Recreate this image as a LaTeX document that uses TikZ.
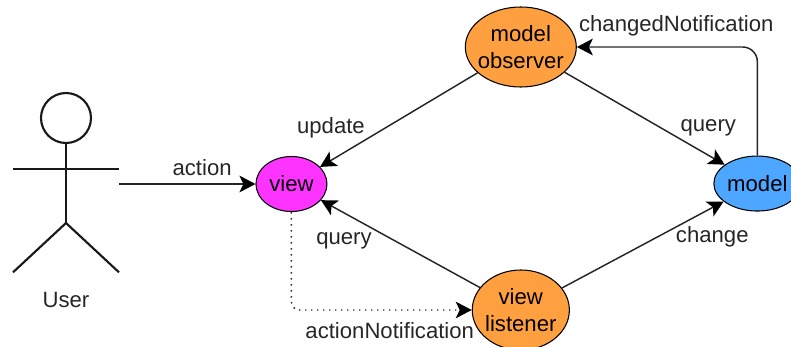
\documentclass[tikz,border=0pt]{standalone}
\usepackage{fontspec}
\setmainfont{Liberation Sans}
\usepackage{xcolor}
\usepackage{tikz}
\usetikzlibrary{shapes.geometric, arrows.meta}
\definecolor{viewfill}{HTML}{FF33FF}
\definecolor{obsfill}{HTML}{FFA040}
\definecolor{modelfill}{HTML}{4DA6FF}
\tikzstyle{vw} = [ellipse, minimum width=53.25pt, minimum height=41.25pt, inner sep=0pt, text centered, draw=black, thick, fill=viewfill]
\tikzstyle{obs} = [ellipse, minimum width=83.25pt, minimum height=60pt, inner ysep=0pt, inner xsep=-3pt, align=center, draw=black, thick, fill=obsfill]
\tikzstyle{lis} = [ellipse, minimum width=72pt, minimum height=60pt, inner ysep=0pt, inner xsep=-1pt, align=center, draw=black, thick, fill=obsfill]
\tikzstyle{mdl} = [ellipse, minimum width=65.25pt, minimum height=41.25pt, inner sep=0pt, text centered, draw=black, thick, fill=modelfill]
\tikzstyle{lab} = [inner sep=0pt, text=black!85]
\tikzstyle{arrow} = [line width=1.1pt, black!85, -{Stealth[length=12pt, width=12.5pt, inset=3pt, color=black]}]
\tikzstyle{dotarrow} = [arrow, dash pattern=on 1.1pt off 3.4pt, rounded corners=6pt]
\tikzstyle{stick} = [line width=1.6pt, black!90]

\begin{document}
\begin{tikzpicture}[node distance=172pt, font=\fontsize{16.6}{20}\selectfont]
\useasboundingbox (0,0) rectangle (593.25pt,-259.5pt);

\node (view) [vw] at (218.6pt,-138pt) {view};
\node (observer) [obs, right of=view, yshift=102.75pt] {model\\observer};
\node (listener) [lis, right of=view, yshift=-94.5pt] {view\\listener};
\node (model) [mdl, right of=observer, xshift=5.4pt, yshift=-102.4pt] {model};

% user
\node (head) [circle, minimum size=37.5pt, inner sep=0pt, draw, stick] at (49.5pt,-88.5pt) {};
\coordinate (hip) at ([yshift=-59.2pt]head.south);
\coordinate (neck) at ([yshift=-18.7pt]head.south);
\coordinate (armL) at ([xshift=-39.75pt]neck);
\coordinate (armR) at ([xshift=39.75pt]neck);
\coordinate (footL) at ([xshift=-39.75pt,yshift=-37pt]hip);
\coordinate (footR) at ([xshift=39.75pt,yshift=-37pt]hip);
\coordinate (hand) at ([xshift=39.75pt,yshift=-11.25pt]neck);
\node (user) [lab, yshift=-136.5pt] at (head) {User};

\draw [stick] (head) -- (hip);
\draw [stick] (armL) -- (armR);
\draw [stick] (footL) -- (hip) -- (footR);

\node (actionlab) [lab, xshift=-67pt, yshift=12pt] at (view) {action};
\node (updatelab) [lab, xshift=29.6pt, yshift=42pt] at (view) {update};
\node (querylabA) [lab, xshift=39.4pt, yshift=-42.5pt] at (view) {query};
\node (querylabB) [lab, xshift=-36.8pt, yshift=41.5pt] at (model) {query};
\node (changelab) [lab, xshift=-33.8pt, yshift=-40pt] at (model) {change};
\node (changedlab) [lab, xshift=116.6pt, yshift=15.8pt] at (observer) {changedNotification};
\node (notiflab) [lab, xshift=-98.3pt, yshift=-15.8pt] at (listener) {actionNotification};

\draw [arrow] (hand) -- (view);
\draw [arrow] (observer) -- (view);
\draw [arrow] (observer) -- (model);
\draw [arrow] (listener) -- (view);
\draw [arrow] (listener) -- (model);
\draw [arrow, rounded corners=11pt] (model) |- (observer);
\draw [dotarrow] (view) |- (listener);

\end{tikzpicture}
\end{document}
